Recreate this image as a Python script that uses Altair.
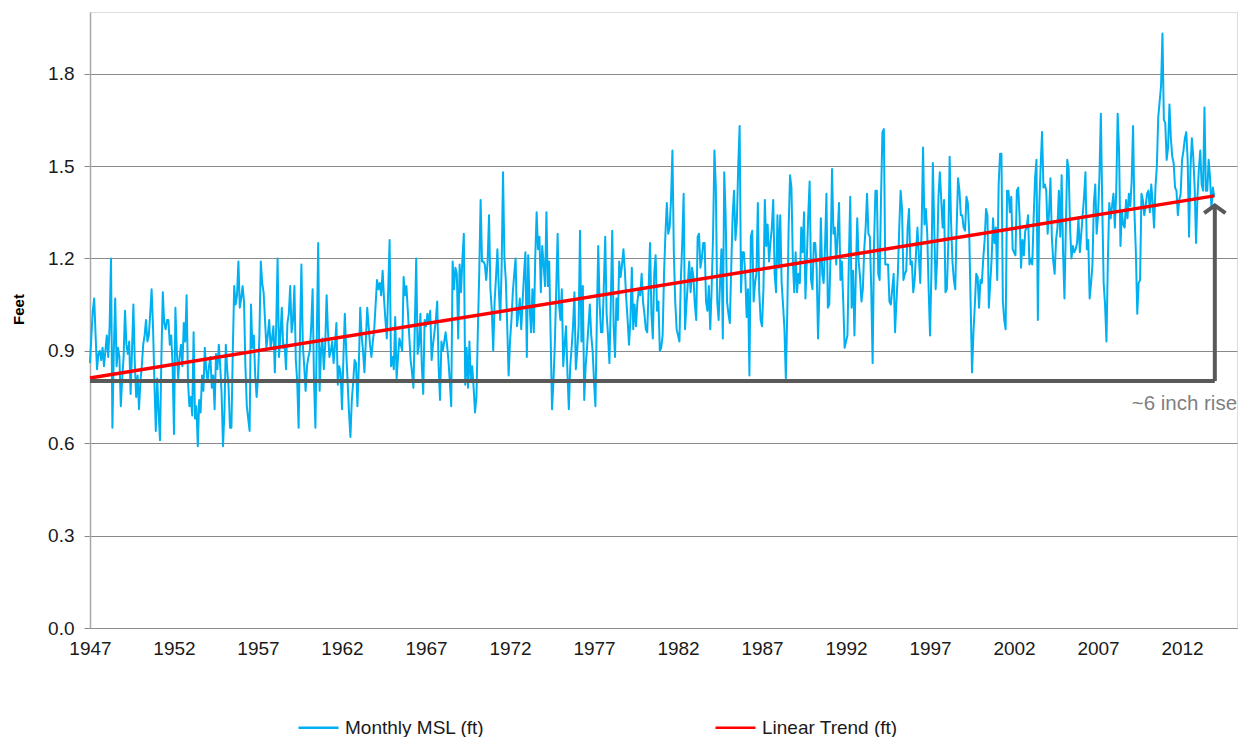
import altair as alt
import pandas as pd

# ---- Monthly mean sea level (ft), Jan 1947 .. Dec 2013 ----
msl_1940s = [
    0.86, 0.95, 1.03, 1.07, 0.95, 0.84, 0.89, 0.90, 0.87, 0.91, 0.85, 0.90,
    0.95, 0.88, 0.98, 1.20, 0.65, 0.90, 1.07, 0.85, 0.91, 0.88, 0.72, 0.81,
    0.88, 1.03, 0.92, 0.89, 0.93, 0.76, 0.90, 1.05, 0.86, 0.75, 0.82, 0.71,
]
msl_1950s = [
    0.80, 0.85, 0.92, 0.95, 1.00, 0.93, 0.95, 1.02, 1.10, 0.98, 0.80, 0.64,
    0.81, 0.70, 0.61, 0.88, 1.09, 0.99, 0.97, 1.00, 1.00, 0.92, 0.95, 0.85,
    0.63, 1.04, 0.90, 0.81, 0.88, 0.92, 0.85, 0.99, 0.93, 1.08, 0.80, 0.72,
    0.75, 0.69, 0.96, 0.68, 0.72, 0.59, 0.74, 0.70, 0.82, 0.77, 0.91, 0.84,
    0.80, 0.85, 0.88, 0.78, 0.82, 0.71, 0.89, 0.84, 0.92, 0.85, 0.76, 0.59,
    0.70, 0.92, 0.84, 0.78, 0.65, 0.65, 0.90, 1.11, 1.05, 1.08, 1.19, 1.04,
    1.07, 1.11, 1.06, 0.85, 0.72, 0.68, 0.64, 1.05, 0.91, 0.95, 0.82, 0.75,
    0.81, 0.95, 1.19, 1.12, 1.09, 1.00, 0.91, 0.95, 1.00, 0.91, 0.94, 0.98,
    0.83, 0.98, 1.20, 0.88, 0.95, 1.04, 0.91, 0.92, 0.84, 0.99, 1.02, 1.11,
    0.96, 1.00, 1.11, 0.87, 0.80, 0.65, 0.95, 1.18, 0.92, 0.85, 0.77, 0.85,
]
msl_1960s = [
    0.88, 0.90, 0.98, 1.10, 0.80, 0.65, 0.95, 1.25, 0.77, 0.90, 0.94, 0.84,
    0.92, 1.08, 0.96, 0.88, 0.90, 0.93, 0.86, 0.92, 0.99, 0.79, 0.85, 0.83,
    0.71, 0.88, 1.02, 0.90, 0.80, 0.70, 0.62, 0.74, 0.80, 0.87, 0.86, 0.72,
    0.85, 1.04, 0.95, 0.90, 0.83, 0.93, 1.04, 0.98, 0.92, 0.88, 0.93, 0.97,
    1.05, 1.13, 1.10, 1.12, 1.08, 1.16, 1.07, 1.00, 0.94, 1.10, 1.26, 0.85,
    0.88, 0.84, 1.01, 0.81, 0.88, 0.94, 0.92, 0.90, 1.14, 1.08, 1.11, 1.03,
    0.95, 0.87, 0.83, 0.78, 0.98, 1.20, 0.89, 0.92, 1.02, 0.85, 0.76, 1.00,
    0.98, 1.02, 0.99, 1.03, 0.87, 0.92, 0.96, 1.00, 1.06, 0.85, 0.74, 0.93,
    0.90, 0.93, 0.96, 0.92, 0.87, 0.80, 0.72, 1.19, 1.10, 1.17, 1.15, 0.94,
    1.18, 1.09, 1.20, 1.28, 0.79, 0.91, 0.78, 0.93, 0.80, 0.85, 0.78, 0.70,
]
msl_1970s = [
    0.75, 0.96, 1.15, 1.39, 1.19, 1.19, 1.18, 1.13, 1.19, 1.34, 1.10, 1.03,
    0.90, 1.06, 1.14, 1.23, 1.10, 1.00, 1.17, 1.48, 1.20, 1.13, 0.98, 0.82,
    0.93, 1.00, 1.09, 1.15, 1.20, 0.98, 1.02, 1.07, 0.97, 1.06, 1.15, 1.22,
    0.88, 1.21, 1.05, 0.96, 1.10, 0.96, 1.20, 1.35, 1.23, 1.27, 1.09, 1.24,
    1.18, 1.11, 1.35, 1.11, 1.19, 0.95, 0.71, 0.80, 0.92, 1.10, 1.28, 1.05,
    1.00, 1.10, 0.85, 0.92, 0.98, 0.83, 0.71, 0.85, 0.91, 0.98, 1.09, 0.84,
    0.90, 0.98, 1.29, 0.93, 1.11, 0.74, 0.85, 0.91, 0.98, 1.05, 0.95, 0.90,
    0.80, 0.72, 1.00, 1.24, 1.05, 0.96, 0.96, 1.11, 1.27, 1.02, 0.95, 0.86,
    1.06, 1.29, 0.98, 0.88, 1.07, 1.00, 1.19, 1.14, 1.18, 1.23, 1.16, 1.07,
    1.00, 0.92, 1.00, 1.17, 0.97, 1.05, 0.98, 1.06, 1.10, 1.08, 1.15, 1.06,
]
msl_1980s = [
    1.02, 0.97, 0.96, 1.10, 1.25, 1.02, 0.94, 1.15, 1.21, 1.03, 1.06, 0.90,
    0.91, 0.95, 1.15, 1.28, 1.38, 1.28, 1.30, 1.39, 1.55, 1.22, 1.06, 0.97,
    0.95, 0.93, 1.13, 1.25, 1.41, 0.97, 1.05, 1.12, 1.19, 1.09, 1.17, 1.14,
    1.05, 1.00, 1.27, 1.28, 1.17, 1.20, 1.25, 1.25, 1.06, 1.03, 1.11, 0.97,
    1.10, 1.27, 1.55, 1.43, 1.06, 1.00, 1.12, 1.23, 0.94, 1.48, 1.34, 1.06,
    1.02, 0.99, 1.17, 1.34, 1.42, 1.26, 1.32, 1.50, 1.63, 1.09, 1.22, 1.22,
    1.15, 1.01, 1.10, 0.82, 1.27, 1.29, 1.06, 1.12, 1.15, 1.38, 1.09, 1.00,
    0.98, 1.10, 1.39, 1.24, 1.31, 1.19, 1.25, 1.30, 1.39, 1.15, 1.09, 1.34,
    1.17, 1.34, 1.12, 1.05, 0.97, 0.81, 1.02, 1.30, 1.47, 1.43, 1.19, 1.09,
    1.22, 1.09, 1.15, 1.12, 1.30, 1.22, 1.35, 1.07, 1.20, 1.34, 1.45, 1.13,
]
msl_1990s = [
    1.10, 1.25, 1.25, 1.17, 0.94, 1.10, 1.33, 1.15, 1.12, 1.24, 1.41, 1.04,
    1.05, 1.22, 1.49, 1.28, 1.30, 1.18, 1.28, 1.38, 1.13, 1.19, 1.06, 0.91,
    0.93, 0.95, 1.19, 1.40, 1.04, 1.16, 0.95, 1.15, 1.33, 1.19, 1.14, 1.06,
    1.10, 1.23, 1.30, 1.41, 1.28, 1.27, 1.10, 0.86, 1.25, 1.42, 1.42, 1.15,
    1.13, 1.40, 1.61, 1.62, 1.18, 1.18, 1.18, 1.06, 1.05, 1.10, 1.15, 0.96,
    1.06, 1.15, 1.30, 1.42, 1.36, 1.13, 1.15, 1.16, 1.30, 1.36, 1.18, 1.19,
    1.09, 1.13, 1.22, 1.30, 1.21, 1.12, 1.30, 1.56, 1.31, 1.36, 1.28, 1.10,
    0.95, 1.16, 1.51, 1.30, 1.10, 1.19, 1.40, 1.48, 1.39, 1.30, 1.39, 1.09,
    1.10, 1.24, 1.53, 1.32, 1.19, 1.13, 1.10, 1.30, 1.46, 1.42, 1.34, 1.34,
    1.30, 1.29, 1.40, 1.38, 1.28, 1.05, 0.83, 0.96, 1.05, 1.15, 1.14, 1.04,
]
msl_2000s = [
    1.13, 1.12, 1.20, 1.26, 1.36, 1.34, 1.04, 1.12, 1.20, 1.33, 1.25, 1.30,
    1.13, 1.44, 1.54, 1.54, 1.06, 1.00, 0.97, 1.42, 1.42, 1.35, 1.40, 1.23,
    1.22, 1.21, 1.42, 1.43, 1.33, 1.17, 1.26, 1.21, 1.29, 1.30, 1.34, 1.18,
    1.20, 1.18, 1.33, 1.46, 1.52, 1.00, 1.37, 1.50, 1.61, 1.43, 1.44, 1.42,
    1.28, 1.35, 1.46, 1.27, 1.19, 1.15, 1.26, 1.30, 1.42, 1.27, 1.47, 1.22,
    1.07, 1.30, 1.52, 1.49, 1.30, 1.20, 1.24, 1.22, 1.23, 1.25, 1.33, 1.22,
    1.28, 1.34, 1.40, 1.48, 1.23, 1.26, 1.07, 1.12, 1.18, 1.38, 1.44, 1.28,
    1.34, 1.47, 1.67, 1.37, 1.12, 1.05, 0.93, 1.19, 1.38, 1.33, 1.37, 1.41,
    1.30, 1.42, 1.67, 1.55, 1.24, 1.35, 1.31, 1.30, 1.39, 1.33, 1.41, 1.37,
    1.45, 1.63, 1.35, 1.22, 1.02, 1.12, 1.13, 1.41, 1.39, 1.34, 1.37, 1.41,
]
msl_2010s = [
    1.42, 1.35, 1.44, 1.38, 1.30, 1.43, 1.50, 1.66, 1.71, 1.76, 1.93, 1.65,
    1.64, 1.52, 1.56, 1.70, 1.59, 1.53, 1.51, 1.43, 1.42, 1.34, 1.39, 1.41,
    1.52, 1.55, 1.59, 1.61, 1.52, 1.27, 1.49, 1.59, 1.53, 1.43, 1.25, 1.40,
    1.49, 1.55, 1.44, 1.42, 1.69, 1.42, 1.42, 1.52, 1.46, 1.36, 1.43, 1.40,
]

first_year = 1947
tick_years = [1947, 1952, 1957, 1962, 1967, 1972, 1977, 1982, 1987, 1992, 1997, 2002, 2007, 2012]
y_ticks = [0.0, 0.3, 0.6, 0.9, 1.2, 1.5, 1.8]

trend_years = [1947.0, 2013.917]
trend_values = [0.812, 1.403]

arrow_year = [2013.95]
arrow_base = [0.802]
arrow_tip = [1.372]

note_year = [2009.0]
note_value = [0.728]
note_text = ["~6 inch rise"]

S1 = "Monthly MSL (ft)"
S2 = "Linear Trend (ft)"
FONT = "Liberation Sans"

monthly = msl_1940s + msl_1950s + msl_1960s + msl_1970s + msl_1980s + msl_1990s + msl_2000s + msl_2010s
df = pd.DataFrame({
    "year": [first_year + i / 12 for i in range(len(monthly))],
    "value": monthly,
    "series": S1,
})
trend_df = pd.DataFrame({"year": trend_years, "value": trend_values, "series": S2})
hline_df = pd.DataFrame({"year": [first_year], "year_end": arrow_year, "value": arrow_base})
vline_df = pd.DataFrame({"year": arrow_year, "value": arrow_base, "value_end": arrow_tip})
head_df = pd.DataFrame({"year": arrow_year, "value": arrow_tip})
note_df = pd.DataFrame({"year": note_year, "value": note_value, "label": note_text})

x_enc = alt.X(
    "year:Q",
    scale=alt.Scale(domain=[1947, 2015.27], nice=False, zero=False),
    axis=alt.Axis(
        values=tick_years, format="d", title=None, grid=False, ticks=False, tickSize=0,
        labelPadding=11, labelFlush=False, labelOverlap=False, labelBound=False,
        domainColor="#8c8c8c", domainWidth=1.2,
        labelFont=FONT, labelFontSize=19, labelColor="#1a1a1a",
    ),
)
y_enc = alt.Y(
    "value:Q",
    scale=alt.Scale(domain=[0, 2.0], nice=False, zero=True),
    axis=alt.Axis(
        values=y_ticks, format=".1f", title="Feet", grid=True,
        gridColor="#8a8a8a", gridWidth=1, tickColor="#8a8a8a", tickSize=6,
        domainColor="#a8a8a8", domainWidth=1.5, labelPadding=10,
        labelFont=FONT, labelFontSize=19, labelColor="#1a1a1a",
        titleFont=FONT, titleFontSize=15, titleFontWeight="bold", titleColor="#000000",
        titleX=-72, titleY=297, titleAlign="center", titleBaseline="middle", titleAngle=270,
    ),
)
color_enc = alt.Color(
    "series:N",
    scale=alt.Scale(domain=[S1, S2], range=["#00B0F0", "#FF0000"]),
    legend=alt.Legend(
        title=None, orient="none", legendX=207, legendY=694, direction="horizontal",
        symbolType="stroke", symbolSize=1600, symbolStrokeWidth=2.5,
        labelFont=FONT, labelFontSize=19, labelColor="#1a1a1a",
        labelOffset=5, columnPadding=225,
    ),
)

blue = alt.Chart(df).mark_line(strokeWidth=2, strokeJoin="round").encode(x=x_enc, y=y_enc, color=color_enc)
red = alt.Chart(trend_df).mark_line(strokeWidth=3.5).encode(x=x_enc, y=y_enc, color=color_enc)
hline = alt.Chart(hline_df).mark_rule(color="#595959", strokeWidth=4).encode(x=x_enc, x2="year_end:Q", y=y_enc)
vline = alt.Chart(vline_df).mark_rule(color="#595959", strokeWidth=4).encode(x=x_enc, y=y_enc, y2="value_end:Q")
head = alt.Chart(head_df).mark_point(
    shape="M-1,0.72L0,0L1,0.72", size=324, filled=False, strokeWidth=4,
    color="#595959", opacity=1, strokeCap="square", strokeJoin="miter",
).encode(x=x_enc, y=y_enc)
note = alt.Chart(note_df).mark_text(
    align="left", baseline="middle", fontSize=20.5, font=FONT, color="#7f7f7f",
).encode(x=x_enc, y=y_enc, text="label:N")

chart = (
    alt.layer(blue, red, hline, vline, head, note)
    .properties(
        width=1147, height=616,
        padding={"left": 82, "top": 4, "right": 2, "bottom": 109},
        autosize=alt.AutoSizeParams(type="none"),
        background="white",
    )
    .configure_view(stroke=None)
    .configure(font=FONT)
)

chart.save("out.html", embed_options={"renderer": "svg", "actions": False})
